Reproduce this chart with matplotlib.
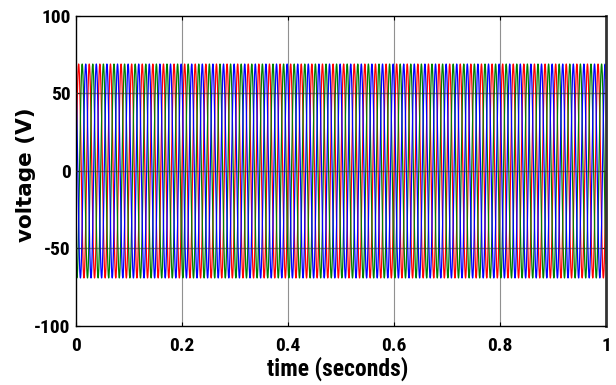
import numpy as np
import matplotlib
matplotlib.use("Agg")
import matplotlib.pyplot as plt

# Three-phase voltage parameters
amplitude = 69.0          # V peak
frequency = 50.0          # Hz
phases_deg = [0.0, -120.0, 120.0]
phase_colors = ["#ff0000", "#008000", "#0000ff"]
t_end = 1.0
x_ticks = [0, 0.2, 0.4, 0.6, 0.8, 1]
x_ticklabels = ["0", "0.2", "0.4", "0.6", "0.8", "1"]
y_ticks = [-100, -50, 0, 50, 100]
y_ticklabels = ["-100", "-50", "0", "50", "100"]

narrow = ['Roboto Condensed', 'Roboto', 'PT Sans Narrow', 'Liberation Sans', 'DejaVu Sans']
plt.rcParams['font.family'] = narrow
plt.rcParams['font.stretch'] = 'condensed'
plt.rcParams['font.weight'] = 'bold'

fig = plt.figure(figsize=(6.16, 3.85), dpi=100)
ax = fig.add_axes([76/616, 1-326/385, (606-76)/616, (326-16)/385])

t = np.linspace(0, t_end, 20001)
for ph, c in zip(phases_deg, phase_colors):
    v = amplitude * np.sin(2*np.pi*frequency*t + np.deg2rad(ph))
    ax.plot(t, v, color=c, lw=0.9, zorder=2)

ax.set_xlim(0, 1)
ax.set_ylim(-100, 100)
ax.set_xticks(x_ticks)
ax.set_xticklabels(x_ticklabels)
ax.set_yticks(y_ticks)
ax.set_yticklabels(y_ticklabels)

for x in x_ticks[1:-1]:
    ax.axvline(x, color="#909090", lw=0.8, zorder=1)
for y in [-50, 0, 50]:
    ax.axhline(y, color="#303030", lw=1.0, alpha=0.55, zorder=3)

ax.tick_params(axis='both', direction="in", top=True, right=True, length=3, width=0.8,
               labelsize=14)
ax.tick_params(axis='x', pad=8)
ax.tick_params(axis='y', pad=4)
for lab in ax.get_xticklabels() + ax.get_yticklabels():
    lab.set_fontweight("bold")
    lab.set_fontstretch("condensed")
for s in ax.spines.values():
    s.set_linewidth(1.0)
ax.spines['right'].set_linewidth(2.0)
ax.spines['right'].set_color("#333333")

ax.set_xlabel("time (seconds)", fontsize=17, fontweight="bold", fontstretch="condensed")
ax.xaxis.label.set_va("center")
ax.xaxis.set_label_coords((338-76)/530, (326-369)/310)
ax.set_ylabel("voltage (V)", fontsize=15.5, fontweight="bold",
              family=['DejaVu Sans'], fontstretch="normal")
ax.yaxis.label.set_va("center")
ax.yaxis.set_label_coords((26.5-76)/530, (326-174.5)/310)

fig.savefig("out.png", dpi=100)
